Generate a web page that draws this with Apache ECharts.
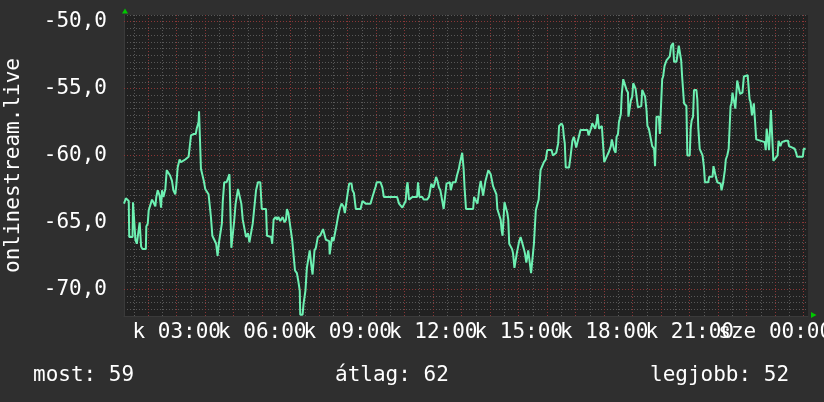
<!DOCTYPE html>
<html><head><meta charset="utf-8">
<script src="https://cdn.jsdelivr.net/npm/echarts@6/dist/echarts.min.js"></script>
<style>html,body{margin:0;padding:0;background:#2f2f2f;}#c{width:824px;height:402px;}</style>
</head><body><div id="c"></div>
<script>
// [minute since start-day 00:00, value]
const readings = [
[69,-63.6],[73,-63.2],[79,-63.4],[80,-66.1],[87,-66.1],[88,-63.5],[90,-63.5],[93,-66.3],[96,-66.6],[100,-66.6],
[102,-65.0],[104,-65.0],[105,-66.8],[108,-67.0],[115,-67.0],[116,-65.3],[119,-65.1],[121,-64.1],[124,-64.0],[128,-63.3],
[131,-63.5],[135,-63.8],[137,-63.1],[140,-62.6],[142,-62.6],[144,-63.0],[147,-63.9],[149,-62.6],[152,-63.1],[156,-62.5],
[159,-61.1],[163,-61.0],[166,-61.5],[170,-61.9],[173,-62.6],[177,-62.9],[179,-62.3],[182,-60.9],[184,-60.8],[186,-60.3],
[189,-60.5],[193,-60.4],[198,-60.3],[205,-60.1],[208,-60.0],[210,-58.5],[215,-58.4],[220,-58.4],[222,-58.0],[226,-57.5],
[227,-56.7],[230,-56.7],[231,-61.0],[234,-61.1],[237,-61.9],[240,-62.5],[243,-62.5],[247,-62.9],[250,-63.9],[252,-64.6],
[255,-66.0],[259,-66.1],[263,-66.6],[266,-67.5],[269,-66.5],[272,-66.5],[275,-65.1],[277,-63.4],[280,-62.0],[285,-62.0],
[289,-61.9],[291,-61.4],[294,-61.5],[295,-66.9],[299,-66.9],[301,-64.9],[304,-63.6],
[309,-62.5],[312,-62.4],[316,-63.6],[319,-64.8],[323,-64.9],[326,-66.1],[330,-65.8],[333,-66.5],[337,-66.5],[340,-65.1],
[344,-65.0],[347,-62.6],[351,-62.0],[356,-62.0],[359,-64.0],[368,-64.0],[370,-66.0],[379,-66.1],[381,-66.6],[382,-66.6],
[384,-64.8],[388,-64.6],[391,-64.8],[394,-64.6],[398,-64.9],[400,-64.8],[403,-64.6],[407,-65.0],[410,-64.8],[412,-64.0],
[415,-64.3],[417,-64.8],[421,-64.9],[423,-66.3],[426,-66.4],[429,-68.6],[433,-68.8],[436,-69.4],[439,-70.1],[440,-71.9],
[445,-71.9],[447,-71.1],[451,-70.1],[454,-68.4],[457,-68.3],[460,-67.1],[463,-68.1],[466,-68.9],[468,-69.0],[470,-67.1],
[473,-66.9],[477,-66.1],[482,-66.0],[486,-65.9],[488,-65.5],[491,-65.9],[494,-66.3],[501,-66.4],[502,-67.4],[505,-67.4],
[507,-66.1],[510,-66.4],[514,-66.4],[517,-65.1],[520,-64.5],[523,-64.0],[527,-63.6],[531,-63.8],[534,-64.3],[538,-64.3],
[540,-62.8],[543,-62.1],[545,-62.0],[548,-62.1],[550,-62.6],
[553,-62.8],[557,-64.0],[567,-64.0],[571,-63.4],[574,-63.5],[578,-63.6],[588,-63.6],[592,-63.1],[595,-63.0],[599,-62.3],
[601,-62.0],[609,-62.0],[613,-62.4],[616,-63.1],[644,-63.1],[648,-63.6],[651,-63.7],[655,-63.9],[658,-64.0],[662,-63.4],
[664,-62.4],[666,-62.0],[669,-63.3],[672,-63.4],[676,-63.1],[686,-63.1],[688,-62.0],[691,-63.1],[697,-63.1],[700,-63.3],
[704,-63.4],[707,-63.3],[711,-63.1],[714,-63.0],[716,-62.1],[720,-62.4],[723,-62.1],[726,-61.6],[729,-61.9],[732,-62.4],
[735,-62.6],[737,-63.0],[740,-63.1],[742,-64.0],[746,-64.0],[748,-62.1],[755,-62.0],[757,-62.6],[761,-62.0],[767,-62.0],
[770,-61.5],[774,-61.0],[776,-60.6],[778,-60.5],[781,-59.8],[783,-59.8],[784,-61.0],[786,-62.4],[789,-64.0],
[797,-64.0],[804,-64.0],[806,-63.1],[810,-63.0],[813,-63.6],[815,-63.1],[817,-62.5],[820,-61.9],[823,-61.9],[825,-63.0],
[827,-63.1],[830,-61.9],[834,-61.8],[836,-61.1],[839,-61.1],[841,-61.4],[844,-61.4],[846,-62.3],[850,-62.4],[853,-62.9],
[855,-64.0],[859,-64.0],[862,-64.8],[864,-65.6],[866,-66.0],[868,-66.0],[870,-63.5],[873,-63.5],[876,-64.3],[878,-64.8],
[880,-66.6],[883,-66.6],[886,-67.0],[888,-67.3],[891,-68.4],[894,-68.4],[896,-67.3],[899,-67.3],[901,-66.4],[904,-66.1],
[908,-66.1],[911,-67.0],[913,-67.3],[916,-68.0],[918,-68.0],[920,-67.1],[923,-67.1],[926,-68.8],[929,-68.8],[932,-66.6],
[934,-66.5],[936,-64.1],[939,-64.0],[942,-63.3],[944,-62.1],[946,-61.1],[950,-61.1],[953,-60.5],[957,-60.3],[960,-59.6],
[969,-59.6],[972,-60.0],[976,-59.9],[979,-59.8],[983,-59.1],[985,-57.8],[990,-57.6],[993,-57.8],[995,-58.6],[997,-59.1],
[999,-60.9],[1002,-61.0],[1006,-60.9],[1009,-60.1],[1013,-58.9],[1016,-58.6],[1018,-58.9],[1021,-59.4],[1025,-59.3],[1028,-58.4],
[1030,-58.1],[1039,-58.1],
[1045,-58.1],[1047,-58.5],[1050,-58.5],[1052,-58.0],[1055,-57.6],[1059,-57.6],[1061,-58.0],[1064,-57.5],[1066,-56.9],[1068,-56.9],
[1069,-58.0],[1073,-58.0],[1075,-57.8],[1078,-57.9],[1080,-60.5],[1083,-60.5],[1085,-60.1],[1089,-59.8],[1092,-59.8],[1094,-59.3],
[1096,-58.8],[1099,-58.8],[1101,-59.6],[1104,-59.8],[1106,-58.6],[1109,-58.4],[1111,-57.5],[1115,-56.9],[1117,-55.4],[1120,-54.3],
[1124,-54.3],[1127,-55.1],[1130,-55.3],[1131,-57.1],[1134,-57.1],[1136,-55.9],[1139,-55.6],[1141,-54.6],[1144,-54.6],[1146,-55.0],
[1148,-55.1],[1151,-56.4],[1155,-56.4],[1158,-56.3],[1160,-55.1],[1164,-55.0],[1166,-55.6],[1169,-56.6],[1171,-57.8],[1174,-58.0],
[1178,-58.1],[1181,-59.3],[1185,-59.5],[1187,-60.8],[1189,-60.8],[1190,-57.1],[1195,-57.1],[1197,-58.4],[1199,-58.4],[1202,-54.3],
[1204,-54.1],[1207,-53.3],[1211,-52.9],[1215,-52.9],[1218,-52.6],[1221,-51.8],[1225,-51.6],[1227,-53.0],[1229,-53.1],[1232,-53.0],
[1235,-53.1],[1237,-51.8],[1239,-51.8],[1242,-52.9],[1244,-54.1],[1246,-54.1],[1248,-56.1],[1253,-56.3],[1255,-60.0],[1260,-60.0],
[1262,-58.0],[1264,-57.4],[1267,-57.1],[1269,-55.1],[1274,-55.1],[1276,-55.8],[1278,-57.9],
[1281,-59.5],[1287,-60.0],[1290,-60.9],[1292,-62.0],[1299,-62.0],[1301,-61.6],[1308,-61.6],[1310,-60.8],[1313,-60.8],[1315,-61.6],
[1318,-62.0],[1322,-62.0],[1325,-62.1],[1327,-62.6],[1329,-62.6],[1330,-62.1],[1332,-62.1],[1334,-61.1],[1336,-60.3],[1339,-60.0],
[1342,-59.5],[1344,-59.4],[1346,-56.3],[1348,-56.1],[1350,-55.3],[1353,-55.3],[1356,-56.5],[1358,-56.5],[1360,-54.4],[1364,-54.4],
[1366,-55.4],[1369,-55.4],[1371,-55.3],[1374,-54.1],[1382,-54.0],[1384,-54.1],[1386,-55.8],[1388,-56.0],[1391,-57.0],[1393,-57.0],
[1395,-56.1],[1398,-56.1],[1400,-58.8],[1404,-58.9],[1418,-59.0],[1420,-59.6],[1422,-58.0],[1425,-58.0],[1427,-59.6],[1430,-59.6],
[1431,-56.6],[1434,-56.6],[1436,-60.4],[1439,-60.3],[1445,-60.0],[1447,-58.9],[1449,-58.9],[1451,-59.3],[1454,-59.0],[1458,-59.1],
[1462,-58.9],[1465,-59.0],[1467,-58.9],[1469,-59.3],[1475,-59.4],[1481,-59.5],[1484,-59.8],[1486,-60.1],[1498,-60.1],[1500,-59.5],
[1504,-59.5]
];
const xLabelMinutes = [180,360,540,720,900,1080,1260,1440];
const xLabelTexts = ['k 03:00','k 06:00','k 09:00','k 12:00','k 15:00','k 18:00','k 21:00','sze 00:00'];
const yMajorValues = [-70,-65,-60,-55,-50];
const axisName = 'onlinestream.live';
const statTexts = ['most: 59','átlag: 62','legjobb: 52'];
const X_MIN = 69, X_MAX = 1509;
const Y_MIN = -72, Y_MAX = -49.5;

const hourLines = [], halfLines = [];
for (let m = 90; m < X_MAX; m += 30) { (m % 60 === 0 ? hourLines : halfLines).push(m); }

const FONT = 'DejaVu Sans Mono';
const GRAY = '#585858', RED = '#8a3636';

// labels overlap each other in the original, so they are split across two stacked bottom axes
const labelGroups = [xLabelMinutes.filter((_, i) => i % 2 === 0), xLabelMinutes.filter((_, i) => i % 2 === 1)];
const makeXAxis = (vals, showLine) => ({
  type: 'value', min: X_MIN, max: X_MAX, position: 'bottom', offset: 0,
  splitLine: {show: false},
  axisTick: {show: false},
  axisLine: {show: showLine, onZero: false, lineStyle: {color: '#3a3a3a'}},
  axisLabel: {
    customValues: vals,
    showMinLabel: true, showMaxLabel: true,
    color: '#ffffff', fontFamily: FONT, fontSize: 21, margin: 6, hideOverlap: false,
    formatter: v => { const i = xLabelMinutes.indexOf(v); return i >= 0 ? xLabelTexts[i] : ''; }
  }
});

const chart = echarts.init(document.getElementById('c'), null, {renderer: 'canvas'});
chart.setOption({
  animation: false,
  backgroundColor: '#2f2f2f',
  grid: {left: 124, right: 16, top: 15, bottom: 86, show: true, backgroundColor: '#212121', borderWidth: 0,
         containLabel: false, outerBoundsMode: 'none'},
  title: statTexts.map((t, i) => ({
    text: t, left: [33, 335, 650][i], top: 365, padding: 0,
    textStyle: {color: '#ffffff', fontFamily: FONT, fontSize: 21, fontWeight: 'normal'}
  })),
  xAxis: [makeXAxis(labelGroups[0], true), makeXAxis(labelGroups[1], false)],
  yAxis: {
    type: 'value', min: Y_MIN, max: Y_MAX, interval: 0.5,
    name: axisName, nameLocation: 'middle', nameRotate: 90, nameGap: 100,
    nameTextStyle: {color: '#ffffff', fontFamily: FONT, fontSize: 21},
    axisLine: {show: true, lineStyle: {color: '#3a3a3a'}},
    axisTick: {show: false},
    splitLine: {show: true, lineStyle: {color: GRAY, type: [1, 2], width: 1}},
    axisLabel: {
      color: '#ffffff', fontFamily: FONT, fontSize: 21, margin: 17,
      formatter: v => yMajorValues.some(m => Math.abs(m - v) < 1e-6) ? v.toFixed(1).replace('.', ',') : ''
    }
  },
  series: [
    {
      type: 'line', xAxisIndex: 0, data: readings, z: 10, showSymbol: false, symbol: 'none',
      lineStyle: {color: '#6df0b2', width: 2},
      markLine: {
        silent: true, symbol: 'none', z: 1, label: {show: false}, animation: false,
        data: [
          ...halfLines.map(m => ({xAxis: m, lineStyle: {color: GRAY, type: [1, 2], width: 1}})),
          ...hourLines.map(m => ({xAxis: m, lineStyle: {color: RED, type: [1, 2], width: 1}})),
          ...yMajorValues.map(v => ({yAxis: v, lineStyle: {color: RED, type: [1, 2], width: 1}}))
        ]
      }
    }
  ],
  graphic: [
    {type: 'polygon', shape: {points: [[125, 8.5], [122, 13.5], [128, 13.5]]}, style: {fill: '#00c800'}},
    {type: 'polygon', shape: {points: [[816.5, 315], [811, 312], [811, 318]]}, style: {fill: '#00c800'}}
  ]
});
</script></body></html>
